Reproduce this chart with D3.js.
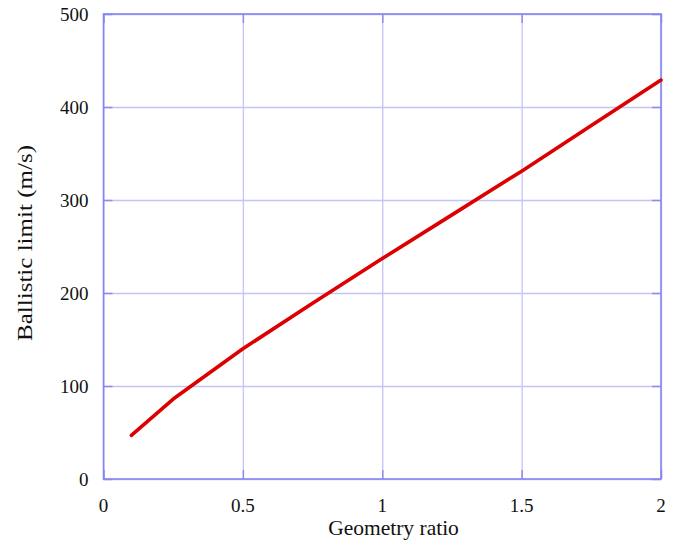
<!DOCTYPE html>
<html lang="en">
<head>
  <meta charset="UTF-8">
  <title>Ballistic limit</title>
  <script src="https://d3js.org/d3.v7.min.js"></script>
  <style>
    body { margin: 0; background: #fff; }
    text { font-family: "Liberation Serif", "Times New Roman", serif; fill: #111; }
  </style>
</head>
<body>
  <svg id="chart" width="680" height="549"></svg>
  <script>
    // data
    const ratio = [0.1, 0.25, 0.5, 0.75, 1, 1.25, 1.5, 1.75, 2];
    const limit = [47, 86, 140, 189, 237, 284, 331, 380, 429];
    const xTicks = [0, 0.5, 1, 1.5, 2];
    const yTicks = [0, 100, 200, 300, 400, 500];

    const svg = d3.select("#chart");
    const margins = { top: 14, right: 19, bottom: 70, left: 103.5 };
    const width = +svg.attr("width");
    const height = +svg.attr("height");
    const chartWidth = width - margins.left - margins.right;
    const chartHeight = height - margins.top - margins.bottom;

    const xScale = d3.scaleLinear().domain([0, 2]).range([0, chartWidth]);
    const yScale = d3.scaleLinear().domain([0, 500]).range([chartHeight, 0]);

    const chartArea = svg.append("g")
      .attr("transform", `translate(${margins.left},${margins.top})`);

    //gridlines
    chartArea.append("g")
      .attr("transform", `translate(0,${chartHeight})`)
      .call(d3.axisBottom(xScale).tickValues(xTicks).tickSize(-chartHeight).tickFormat(""))
      .call(g => g.select(".domain").remove())
      .selectAll("line").attr("stroke", "#c4c4f6").attr("stroke-width", 1.3);
    chartArea.append("g")
      .call(d3.axisLeft(yScale).tickValues(yTicks).tickSize(-chartWidth).tickFormat(""))
      .call(g => g.select(".domain").remove())
      .selectAll("line").attr("stroke", "#c4c4f6").attr("stroke-width", 1.3);

    //small inner ticks on all four sides
    const tickLen = 9;
    const tickSides = [
      [d3.axisBottom(xScale), `translate(0,${chartHeight})`],
      [d3.axisTop(xScale), `translate(0,0)`],
      [d3.axisLeft(yScale), `translate(0,0)`],
      [d3.axisRight(yScale), `translate(${chartWidth},0)`]
    ];
    tickSides.forEach(([ax, tr], i) => {
      const vals = i < 2 ? xTicks : yTicks;
      chartArea.append("g")
        .attr("transform", tr)
        .call(ax.tickValues(vals).tickSizeInner(-tickLen).tickSizeOuter(0).tickFormat(""))
        .call(g => g.select(".domain").remove())
        .selectAll("line").attr("stroke", "#8c8cf0").attr("stroke-width", 1.5);
    });

    //frame
    chartArea.append("rect")
      .attr("width", chartWidth).attr("height", chartHeight)
      .attr("fill", "none").attr("stroke", "#8686f2").attr("stroke-width", 1.6);

    //tick labels
    chartArea.selectAll("text.xlab").data(xTicks).join("text")
      .attr("class", "xlab")
      .attr("x", d => xScale(d))
      .attr("y", chartHeight + 33)
      .attr("text-anchor", "middle")
      .attr("font-size", "19px")
      .text(d => d);
    chartArea.selectAll("text.ylab").data(yTicks).join("text")
      .attr("class", "ylab")
      .attr("x", -15)
      .attr("y", d => yScale(d) + 6.5)
      .attr("text-anchor", "end")
      .attr("font-size", "19px")
      .text(d => d);

    //axis titles
    svg.append("text")
      .attr("x", 393.5)
      .attr("y", 535)
      .attr("text-anchor", "middle")
      .attr("font-size", "21.5px")
      .text("Geometry ratio");
    svg.append("text")
      .attr("transform", `translate(32,243) rotate(-90)`)
      .attr("text-anchor", "middle")
      .attr("font-size", "22px")
      .attr("textLength", 196)
      .attr("lengthAdjust", "spacingAndGlyphs")
      .text("Ballistic limit (m/s)");

    //the curve
    const pts = ratio.map((r, i) => [r, limit[i]]);
    chartArea.append("path")
      .datum(pts)
      .attr("fill", "none")
      .attr("stroke", "#dd0000")
      .attr("stroke-width", 3.6)
      .attr("stroke-linecap", "round")
      .attr("stroke-linejoin", "round")
      .attr("d", d3.line().x(d => xScale(d[0])).y(d => yScale(d[1])));
  </script>
</body>
</html>
